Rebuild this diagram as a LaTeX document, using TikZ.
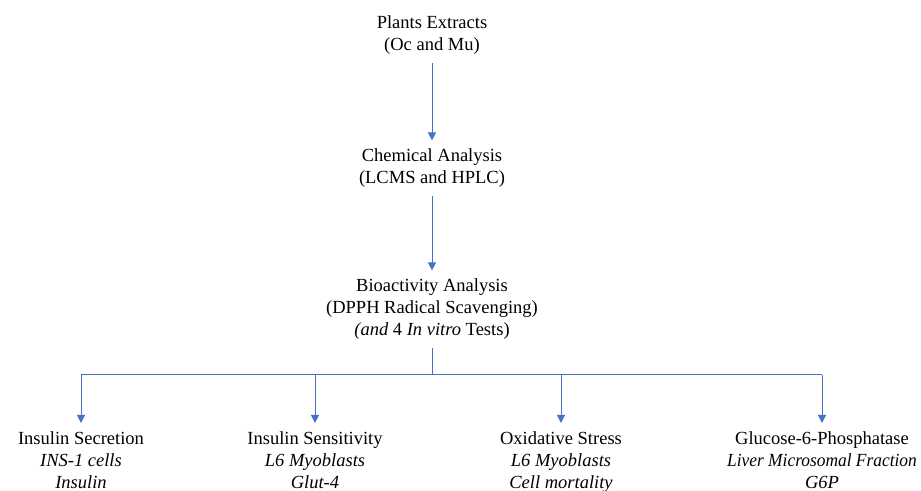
\documentclass[tikz,border=0pt]{standalone}
\usepackage{fontspec}
\setmainfont{Liberation Serif}
\usepackage{tikz}
\usetikzlibrary{arrows.meta,positioning}
\definecolor{flowblue}{RGB}{68,114,196}

\begin{document}
\begin{tikzpicture}
[x=1pt,y=1pt,>={Triangle[length=8pt,width=8pt]},
  flow/.style={draw=flowblue,line width=1pt},
  stage/.style={align=center,font=\fontsize{18.5}{22}\selectfont,inner sep=8pt},
  test/.style={stage,anchor=north}]

  \useasboundingbox (0,0) rectangle (921,490);

  \node [stage] (plants) at 	(432,455) 	{Plants Extracts\\(Oc and Mu)};
  \node [stage] (chem) at 	(432,322) 	{Chemical Analysis\\(LCMS and HPLC)};
  \node [stage] (bio) at 	(432,181) 	{Bioactivity Analysis\\(DPPH Radical Scavenging)\\\textit{(and} 4 \textit{In vitro} Tests)};
  \coordinate (hub) at 		(432,115);

  \node [test] (secr) at 	(81,67) 	{Insulin Secretion\\\textit{INS-1 cells}\\\textit{Insulin}};
  \node [test] (sens) at 	(315,67) 	{Insulin Sensitivity\\\textit{L6 Myoblasts}\\\textit{Glut-4}};
  \node [test] (oxid) at 	(561,67) 	{Oxidative Stress\\\textit{L6 Myoblasts}\\\textit{Cell mortality}};
  \node [test] (gsix) at 	(822,67) 	{Glucose-6-Phosphatase\\\scalebox{0.94}[1]{\textit{Liver Microsomal Fraction}}\\\textit{G6P}};

  \foreach \from/\to in {plants/chem,chem/bio}
    \draw [flow,->] (\from) -- (\to);

  \draw [flow] (bio) -- (hub);
  \draw [flow] (secr |- hub) -- (gsix |- hub);
  \foreach \to in {secr,sens,oxid,gsix}
    \draw [flow,->] (\to |- hub) -- (\to);

\end{tikzpicture}
\end{document}
